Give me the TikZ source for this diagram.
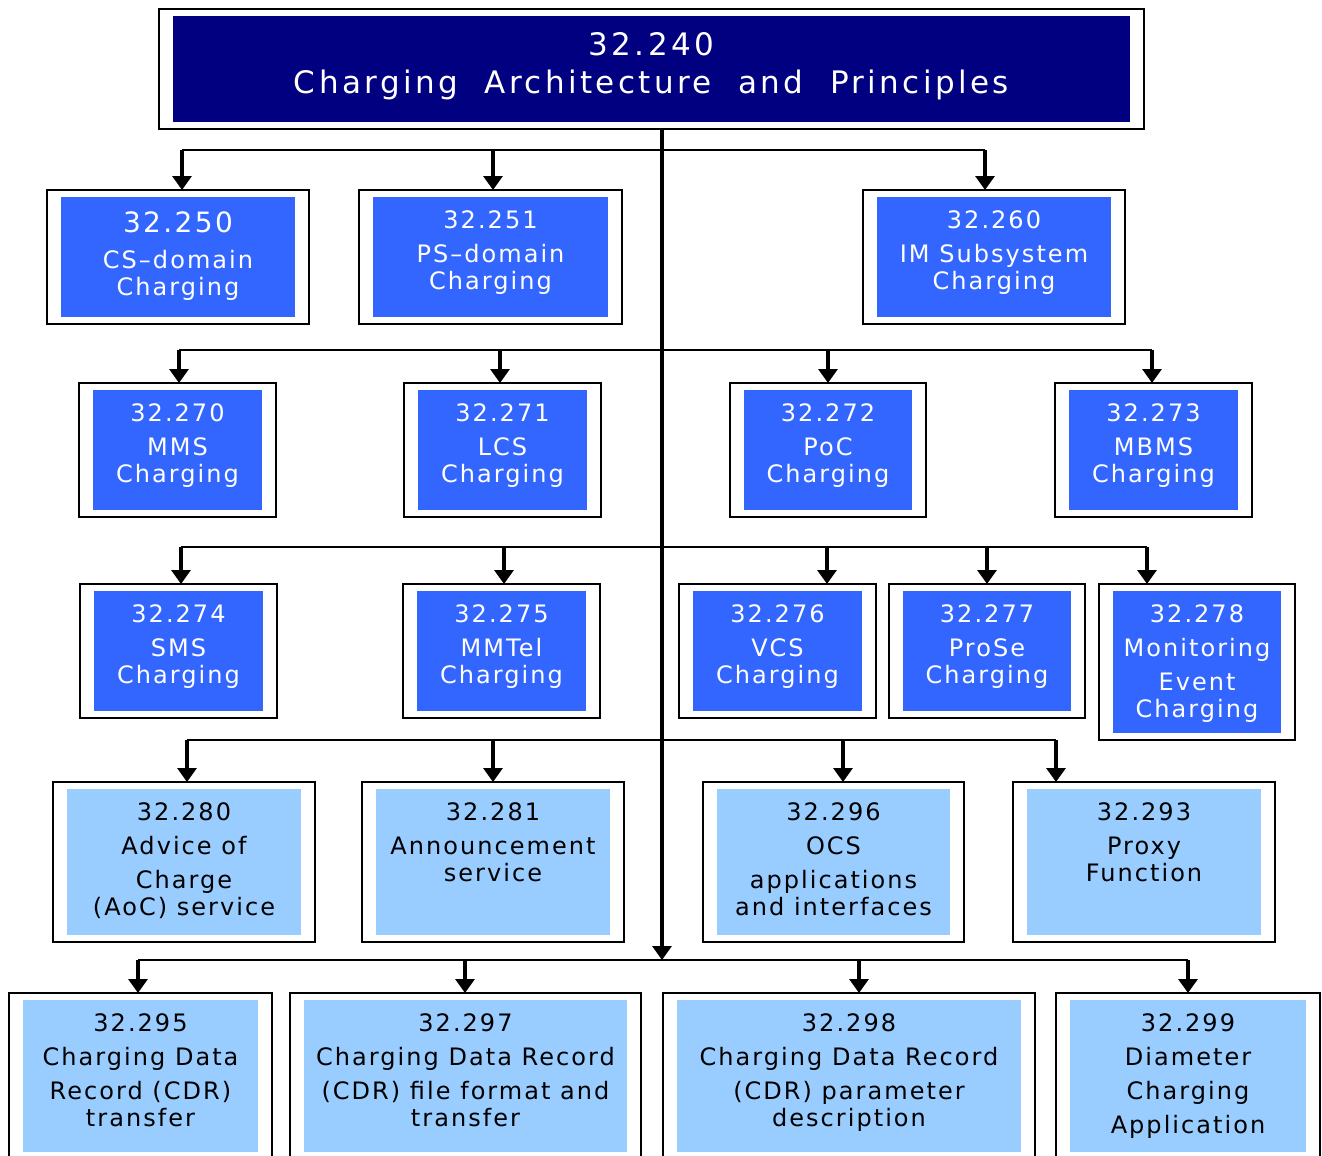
\documentclass[tikz,border=0pt]{standalone}
\usepackage{fontspec}
\setmainfont{DejaVu Sans}
\newfontfamily\lsfont{DejaVu Sans}[LetterSpace=8.5]
\newfontfamily\lstitle{DejaVu Sans}[LetterSpace=11]
\usetikzlibrary{arrows.meta}
\definecolor{navy}{RGB}{0,0,128}
\definecolor{cblue}{RGB}{51,102,255}
\definecolor{clight}{RGB}{153,204,255}
\tikzset{
  specframe/.style={draw=black, line width=0.7pt, fill=white, inner sep=0pt, outer sep=0pt},
  boxB/.style={fill=cblue, inner sep=0pt, outer sep=0pt},
  boxL/.style={fill=clight, inner sep=0pt, outer sep=0pt},
  boxN/.style={fill=navy, inner sep=0pt, outer sep=0pt},
  txt/.style={inner sep=0pt, outer sep=0pt, align=center, anchor=north, font=\lsfont\fontsize{12}{13.5}\selectfont},
  txtB/.style={txt, text=white},
  txtL/.style={txt, text=black},
  txtN/.style={txt, text=white, font=\lstitle\fontsize{15.5}{19}\selectfont},
  bus/.style={line width=0.6pt},
  arr/.style={line width=1.6pt, -{Triangle[width=9.5pt,length=7pt]}},
  trunk/.style={line width=1.6pt, -{Triangle[width=9.5pt,length=7pt]}},
}
% name, x1, y1, x2, y2, kind, text offset (px), text
\newcommand\specbox[8]{%
  \node[specframe, minimum width={(#4-#2)*0.5pt}, minimum height={(#5-#3)*0.5pt}] (#1) at ({(#2+#4)/2},{(#3+#5)/2}) {};
  \node[box#6, minimum width={(#4-#2-28)*0.5pt}, minimum height={(#5-#3-14)*0.5pt}] (#1i) at (#1.center) {};
  \node[txt#6] (#1t) at ([yshift={-#7*0.5pt}]#1i.north) {#8};%
}
\begin{document}
\begin{tikzpicture}[x=0.5pt, y=-0.5pt]
\useasboundingbox (0,0) rectangle (1322,1156);
% title
\specbox{title}{159}{9}{1144}{129}{N}{16.7}{32.240\\[0pt]Charging\ \ Architecture\ \ and\ \ Principles}
% row 1
\specbox{b250}{47}{190}{309}{324}{B}{14.8}{{\fontsize{14}{15}\selectfont 32.250}\\[4.5pt]CS–domain\\Charging}
\specbox{b251}{359}{190}{622}{324}{B}{13.25}{32.251\\[3.5pt]PS–domain\\Charging}
\specbox{b260}{863}{190}{1125}{324}{B}{13.25}{32.260\\[3.5pt]IM Subsystem\\Charging}
% row 2
\specbox{b270}{79}{383}{276}{517}{B}{13.25}{32.270\\[3.5pt]MMS\\Charging}
\specbox{b271}{404}{383}{601}{517}{B}{13.25}{32.271\\[3.5pt]LCS\\Charging}
\specbox{b272}{730}{383}{926}{517}{B}{13.25}{32.272\\[3.5pt]PoC\\Charging}
\specbox{b273}{1055}{383}{1252}{517}{B}{13.25}{32.273\\[3.5pt]MBMS\\Charging}
% row 3
\specbox{b274}{80}{584}{277}{718}{B}{13.25}{32.274\\[3.5pt]SMS\\Charging}
\specbox{b275}{403}{584}{600}{718}{B}{13.25}{32.275\\[3.5pt]MMTel\\Charging}
\specbox{b276}{679}{584}{876}{718}{B}{13.25}{32.276\\[3.5pt]VCS\\Charging}
\specbox{b277}{889}{584}{1085}{718}{B}{13.25}{32.277\\[3.5pt]ProSe\\Charging}
\specbox{b278}{1099}{584}{1295}{740}{B}{13.25}{32.278\\[3.5pt]Monitoring\\[3.5pt]Event\\Charging}
% row 4
\specbox{b280}{53}{782}{315}{942}{L}{13.25}{32.280\\[3.5pt]Advice of\\[3.5pt]Charge\\(AoC) service}
\specbox{b281}{362}{782}{624}{942}{L}{13.25}{32.281\\[3.5pt]Announcement\\service}
\specbox{b296}{703}{782}{964}{942}{L}{13.25}{32.296\\[3.5pt]OCS\\[3.5pt]applications\\and interfaces}
\specbox{b293}{1013}{782}{1275}{942}{L}{13.25}{32.293\\[3.5pt]Proxy\\Function}
% row 5
\specbox{b295}{9}{993}{272}{1159}{L}{13.25}{32.295\\[3.5pt]Charging Data\\[3.5pt]Record (CDR)\\transfer}
\specbox{b297}{290}{993}{641}{1159}{L}{13.25}{32.297\\[3.5pt]Charging Data Record\\[3.5pt](CDR) file format and\\transfer}
\specbox{b298}{663}{993}{1035}{1159}{L}{13.25}{32.298\\[3.5pt]Charging Data Record\\[3.5pt](CDR) parameter\\description}
\specbox{b299}{1056}{993}{1320}{1159}{L}{13.25}{32.299\\[3.5pt]Diameter\\[3.5pt]Charging\\[3.5pt]Application}
% bus coordinates
\coordinate (bus1w) at (182,150);  \coordinate (bus1e) at (985,150);
\coordinate (bus2w) at (179,350);  \coordinate (bus2e) at (1152,350);
\coordinate (bus3w) at (181,547);  \coordinate (bus3e) at (1147,547);
\coordinate (bus4w) at (187,740);  \coordinate (bus4e) at (1056,740);
\coordinate (bus5w) at (138,960);  \coordinate (bus5e) at (1188,960);
\coordinate (bus5) at (662,960);
% buses
\draw[bus] (bus1w) -- (bus1e);
\draw[bus] (bus2w) -- (bus2e);
\draw[bus] (bus3w) -- (bus3e);
\draw[bus] (bus4w) -- (bus4e);
\draw[bus] (bus5w) -- (bus5e);
% trunk
\draw[trunk] (662,0 |- title.south) -- (bus5);
% row 1 arrows
\draw[arr] (bus1w) -- (182,0 |- b250.north);
\draw[arr] (493,150) -- (493,0 |- b251.north);
\draw[arr] (bus1e) -- (985,0 |- b260.north);
% row 2 arrows
\draw[arr] (bus2w) -- (179,0 |- b270.north);
\draw[arr] (500,350) -- (500,0 |- b271.north);
\draw[arr] (828,350) -- (828,0 |- b272.north);
\draw[arr] (bus2e) -- (1152,0 |- b273.north);
% row 3 arrows
\draw[arr] (bus3w) -- (181,0 |- b274.north);
\draw[arr] (504,547) -- (504,0 |- b275.north);
\draw[arr] (827,547) -- (827,0 |- b276.north);
\draw[arr] (987,547) -- (987,0 |- b277.north);
\draw[arr] (bus3e) -- (1147,0 |- b278.north);
% row 4 arrows
\draw[arr] (bus4w) -- (187,0 |- b280.north);
\draw[arr] (493,740) -- (493,0 |- b281.north);
\draw[arr] (843,740) -- (843,0 |- b296.north);
\draw[arr] (bus4e) -- (1056,0 |- b293.north);
% row 5 arrows
\draw[arr] (bus5w) -- (138,0 |- b295.north);
\draw[arr] (465,960) -- (465,0 |- b297.north);
\draw[arr] (859,960) -- (859,0 |- b298.north);
\draw[arr] (bus5e) -- (1188,0 |- b299.north);
\end{tikzpicture}
\end{document}
